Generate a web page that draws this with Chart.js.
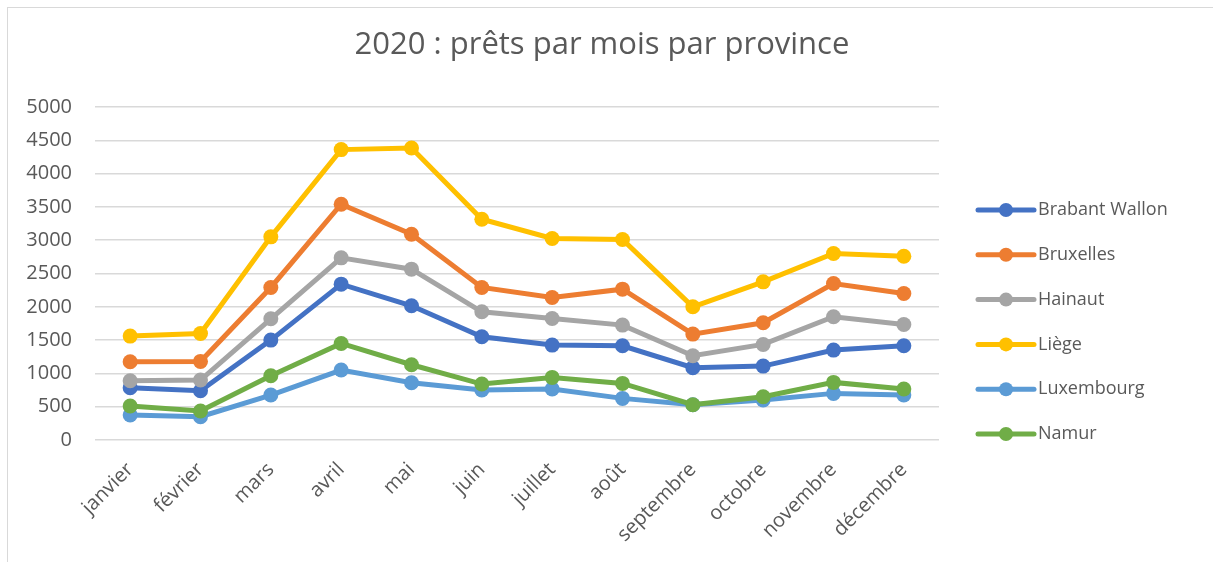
<!DOCTYPE html>
<html lang="fr">
<head>
<meta charset="utf-8">
<title>2020 : prêts par mois par province</title>
<script src="https://cdn.jsdelivr.net/npm/chart.js@4.4.1/dist/chart.umd.min.js"></script>
<style>
    html, body { margin: 0; padding: 0; background: #fff; overflow: hidden; }
    #wrap { position: relative; width: 1213px; height: 562px; }
    #frame {
        position: absolute; left: 7px; top: 7px; width: 1300px; height: 700px;
        border: 1.5px solid #D9D9D9; pointer-events: none;
    }
</style>
</head>
<body>
<div id="wrap">
    <canvas id="graphic-prets" width="1213" height="562"></canvas>
    <div id="frame"></div>
</div>
<script>
const months = ['janvier', 'février', 'mars', 'avril', 'mai', 'juin', 'juillet', 'août', 'septembre', 'octobre', 'novembre', 'décembre'];
const provinces = ['Brabant Wallon', 'Bruxelles', 'Hainaut', 'Liège', 'Luxembourg', 'Namur'];

const brabantWallon = [785, 740, 1500, 2340, 2015, 1550, 1425, 1415, 1085, 1110, 1350, 1415];
const bruxelles = [1175, 1180, 2290, 3540, 3090, 2290, 2140, 2265, 1590, 1760, 2350, 2200];
const hainaut = [890, 900, 1820, 2735, 2565, 1925, 1825, 1725, 1265, 1435, 1850, 1735];
const liege = [1560, 1600, 3050, 4360, 4385, 3315, 3025, 3010, 2000, 2375, 2800, 2760];
const luxembourg = [375, 350, 675, 1050, 860, 750, 765, 625, 530, 600, 700, 675];
const namur = [510, 435, 965, 1450, 1130, 840, 940, 850, 530, 650, 865, 765];

const yTicks = [0, 500, 1000, 1500, 2000, 2500, 3000, 3500, 4000, 4500, 5000];

const titre = '2020 : prêts par mois par province';
const couleurs = ['#4472C4', '#ED7D31', '#A5A5A5', '#FFC000', '#5B9BD5', '#70AD47'];
const series = [brabantWallon, bruxelles, hainaut, liege, luxembourg, namur];
const textColor = '#595959';
const police = '"Open Sans", Lato, sans-serif';

// titre + legende dessines a la main (style Excel)
const excelDeco = {
    id: 'excelDeco',
    afterDraw(chart) {
        const ctx = chart.ctx;
        const area = chart.chartArea;
        ctx.save();
        ctx.fillStyle = textColor;
        ctx.font = '31px ' + police;
        ctx.textAlign = 'center';
        ctx.textBaseline = 'middle';
        ctx.fillText(titre, 602, 45);

        ctx.font = '18px ' + police;
        ctx.textAlign = 'left';
        chart.data.datasets.forEach(function (ds, i) {
            const y = 210 + i * 44.8;
            const x0 = area.right + 39;
            ctx.strokeStyle = ds.borderColor;
            ctx.lineWidth = 5;
            ctx.lineCap = 'round';
            ctx.beginPath();
            ctx.moveTo(x0, y);
            ctx.lineTo(x0 + 56, y);
            ctx.stroke();
            ctx.fillStyle = ds.borderColor;
            ctx.beginPath();
            ctx.arc(x0 + 28, y, 7, 0, Math.PI * 2);
            ctx.fill();
            ctx.fillStyle = textColor;
            ctx.fillText(ds.label, x0 + 60, y);
        });
        ctx.restore();
    }
};

new Chart(document.getElementById('graphic-prets'), {
    type: 'line',
    data: {
        labels: months,
        datasets: provinces.map(function (nom, i) {
            return {
                label: nom,
                data: series[i],
                borderColor: couleurs[i],
                backgroundColor: couleurs[i],
                borderWidth: 5,
                pointRadius: 7.5,
                pointBorderWidth: 0,
                pointBackgroundColor: couleurs[i],
                tension: 0,
                order: provinces.length - i
            };
        })
    },
    options: {
        responsive: false,
        maintainAspectRatio: false,
        animation: false,
        layout: {
            padding: { left: 10, top: 107, right: 274, bottom: 0 }
        },
        scales: {
            x: {
                offset: true,
                grid: { display: false, drawTicks: false },
                border: { display: false },
                ticks: {
                    color: textColor,
                    font: { family: police, size: 20 },
                    maxRotation: 45,
                    minRotation: 45,
                    padding: 18,
                    autoSkip: false
                },
                afterFit: function (scale) {
                    scale.height = 122;
                }
            },
            y: {
                min: 0,
                max: 5000,
                afterBuildTicks: function (scale) {
                    scale.ticks = yTicks.map(function (v) { return { value: v }; });
                },
                grid: { color: '#D9D9D9', lineWidth: 1.5, drawTicks: false },
                border: { display: false },
                ticks: {
                    color: textColor,
                    font: { family: police, size: 20 },
                    padding: 23,
                    callback: function (value) {
                        return String(value);
                    }
                },
                afterFit: function (scale) {
                    scale.width = 85;
                }
            }
        },
        plugins: {
            legend: { display: false },
            title: { display: false },
            tooltip: { enabled: false }
        }
    },
    plugins: [excelDeco]
});
</script>
</body>
</html>
